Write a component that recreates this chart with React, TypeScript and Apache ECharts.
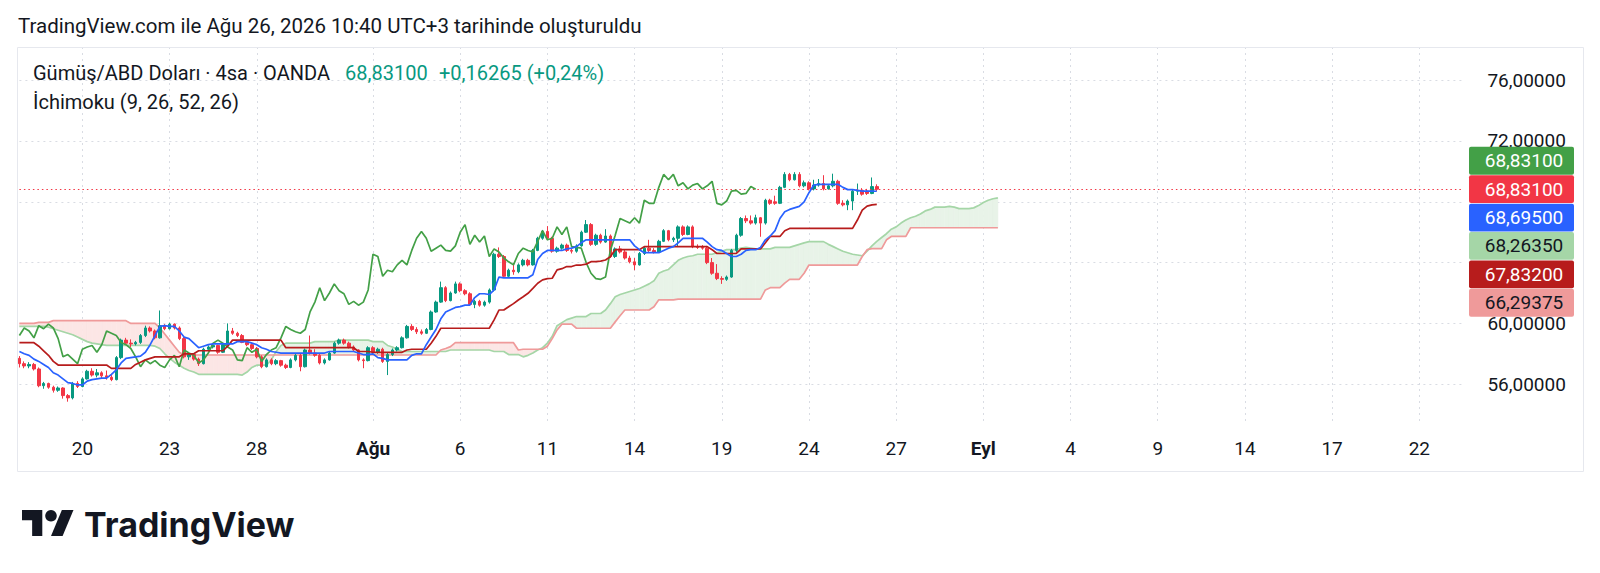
import React, { useEffect, useRef } from "react";
import * as echarts from "echarts";

const N_BARS = 299;
const tickIndex = [13, 31, 49, 73, 91, 109, 127, 145, 163, 181, 199, 217, 235, 253, 271, 289];
const tickLabels = ["20", "23", "28", "Ağu", "6", "11", "14", "19", "24", "27", "Eyl", "4", "9", "14", "17", "22"];
const boldLabels = ["Ağu", "Eyl"];
const priceTicks = [56, 60, 64, 68, 72, 76];
const priceLabelTicks = [56, 60, 72, 76]; // 64 and 68 sit under the value badges
const CHIKOU_SHIFT = 25;

// [open, close, low, high]
const candles = [
  [57.7,57.35,57.1,57.85],[57.35,57.2,57.05,57.5],[57.2,57.3,57.05,57.45],[57.3,57.0,56.9,57.4],[57.0,55.9,55.8,57.1],
  [55.9,56.05,55.7,56.15],[56.05,55.8,55.7,56.1],[55.8,55.6,55.45,55.9],[55.6,55.75,55.5,55.85],[55.75,55.25,55.05,55.8],
  [55.25,55.1,54.85,55.35],[55.1,56.05,55.0,56.15],[56.05,55.85,55.75,56.2],[55.85,56.35,55.8,56.45],[56.35,56.85,56.3,56.95],
  [56.85,56.6,56.5,57.05],[56.6,56.75,56.45,57.0],[56.75,56.55,56.4,56.85],[56.55,56.45,56.3,56.9],[56.45,56.3,56.2,56.6],
  [56.3,57.75,56.25,57.85],[57.75,58.9,57.65,59.0],[58.9,58.7,58.6,59.05],[58.7,58.65,58.45,58.95],[58.65,58.75,58.55,58.85],
  [58.75,59.2,58.65,59.3],[59.2,59.7,59.1,59.85],[59.7,59.5,59.4,59.8],[59.5,59.05,58.95,59.6],[59.05,59.85,59.0,60.85],
  [59.85,59.65,59.55,59.95],[59.65,59.95,59.6,60.05],[59.95,59.7,59.6,60.0],[59.7,59.0,58.9,59.8],[59.0,57.8,57.7,59.1],
  [57.8,57.95,57.6,58.1],[57.95,57.65,57.55,58.05],[57.65,57.35,57.2,57.75],[57.35,58.3,57.3,58.4],[58.3,58.45,58.2,58.55],
  [58.45,58.55,58.35,58.7],[58.55,58.1,58.0,58.6],[58.1,58.6,58.05,58.7],[58.6,59.5,58.55,60.0],[59.5,59.35,59.25,59.7],
  [59.35,59.2,59.1,59.45],[59.2,58.75,58.7,59.3],[58.75,58.6,58.5,58.85],[58.6,58.35,58.25,58.7],[58.35,57.8,57.7,58.45],
  [57.8,57.15,57.05,57.9],[57.15,57.6,57.1,57.7],[57.6,57.35,57.25,57.7],[57.35,57.55,57.25,57.65],[57.55,57.25,57.15,57.6],
  [57.25,57.1,57.0,57.35],[57.1,57.6,57.05,57.7],[57.6,57.9,57.5,58.0],[57.9,57.15,56.85,58.0],[57.15,58.25,57.1,58.35],
  [58.25,58.05,57.95,59.2],[58.05,57.9,57.8,58.3],[57.9,57.4,57.3,58.0],[57.4,57.6,57.3,57.7],[57.6,58.05,57.55,58.15],
  [58.05,58.7,58.0,58.8],[58.7,58.9,58.6,59.0],[58.9,58.7,58.6,59.0],[58.7,58.45,58.35,58.8],[58.45,58.25,58.15,58.55],
  [58.25,57.6,57.5,58.3],[57.6,57.55,57.05,57.7],[57.55,58.4,57.5,58.5],[58.4,58.1,58.0,58.5],[58.1,58.3,58.0,58.4],
  [58.3,57.5,57.4,58.4],[57.5,57.95,56.6,58.05],[57.95,58.25,57.85,58.35],[58.25,58.4,58.15,58.5],[58.4,59.05,58.35,59.15],
  [59.05,59.8,59.0,59.9],[59.8,59.6,59.5,59.95],[59.6,59.45,59.3,59.75],[59.45,59.35,59.25,59.6],[59.35,59.6,59.3,59.7],
  [59.6,60.75,59.55,60.85],[60.75,61.4,60.7,61.5],[61.4,62.35,61.35,62.75],[62.35,61.5,61.4,62.45],[61.5,62.0,61.45,62.1],
  [62.0,62.6,61.95,62.75],[62.6,62.15,62.05,62.7],[62.15,61.95,61.85,62.25],[61.95,61.25,61.15,62.05],[61.25,61.45,61.0,61.55],
  [61.45,61.2,61.1,61.55],[61.2,61.4,61.1,61.5],[61.4,62.2,61.3,62.3],[62.2,64.55,62.1,64.65],[64.55,64.4,64.3,65.0],
  [64.4,63.1,63.0,64.5],[63.1,63.5,63.0,63.6],[63.5,63.4,63.2,63.9],[63.4,63.85,63.3,63.95],[63.85,64.15,63.75,64.25],
  [64.15,63.85,63.75,64.25],[63.85,64.8,63.8,64.9],[64.8,65.6,64.75,65.7],[65.6,66.05,65.5,66.15],[66.05,65.6,65.5,66.4],
  [65.6,64.75,64.65,65.7],[64.75,64.95,64.65,65.05],[64.95,65.15,64.85,65.25],[65.15,64.8,64.7,65.25],[64.8,64.75,64.6,64.95],
  [64.75,65.1,64.65,65.2],[65.1,66.0,65.05,66.1],[66.0,66.5,65.95,66.8],[66.5,65.2,65.1,66.6],[65.2,65.8,65.1,65.9],
  [65.8,65.35,65.25,65.9],[65.35,65.75,65.3,66.2],[65.75,64.4,64.3,65.85],[64.4,64.9,64.3,65.0],[64.9,64.7,64.6,65.1],
  [64.7,64.3,64.2,64.85],[64.3,64.05,63.95,64.45],[64.05,63.85,63.5,64.3],[63.85,64.6,63.8,64.7],[64.6,64.95,64.5,65.05],
  [64.95,64.8,64.7,65.5],[64.8,64.7,64.6,64.95],[64.7,65.4,64.65,65.5],[65.4,66.1,65.35,66.2],[66.1,65.5,65.4,66.15],
  [65.5,65.6,65.35,65.7],[65.6,66.35,65.05,66.45],[66.35,65.85,65.75,66.45],[65.85,66.35,65.8,66.45],[66.35,65.05,64.95,66.45],
  [65.05,65.0,64.9,65.2],[65.0,64.95,64.85,65.15],[64.95,64.0,63.9,65.1],[64.0,63.3,63.2,64.3],[63.3,62.95,62.85,63.9],
  [62.95,62.9,62.6,63.1],[62.9,63.05,62.8,63.15],[63.05,64.8,63.0,64.9],[64.8,65.8,64.7,65.9],[65.8,66.9,65.7,67.0],
  [66.9,66.75,66.6,67.1],[66.75,66.6,66.5,67.1],[66.6,66.95,66.5,67.15],[66.95,66.6,65.7,67.0],[66.6,68.1,66.5,68.2],
  [68.1,67.9,67.8,68.2],[68.0,67.9,67.8,68.4],[67.9,68.95,67.85,69.05],[68.95,69.8,68.9,69.95],[69.8,69.45,69.35,69.9],
  [69.45,69.8,69.4,69.95],[69.8,69.05,68.95,69.95],[69.05,69.25,68.95,69.4],[69.25,68.85,68.75,69.35],[68.85,69.1,68.75,69.45],
  [69.1,69.2,69.0,69.5],[69.2,68.85,68.75,69.75],[68.85,69.05,68.8,69.15],[69.05,69.35,68.95,69.85],[69.35,67.9,67.8,69.45],
  [67.9,67.8,67.7,68.1],[67.8,68.05,67.45,68.15],[68.05,68.7,67.45,68.8],[68.7,68.75,68.45,69.2],[68.75,68.5,68.4,68.9],
  [68.7,68.55,68.45,68.85],[68.55,69.0,68.5,69.6],[69.0,68.831,68.7,69.15],
];

const tenkan = [
  58.15,58.0,57.9,57.65,57.5,57.3,57.1,56.75,56.6,56.35,
  56.1,56.05,55.95,55.95,56.2,56.3,56.35,56.4,56.4,56.65,
  56.95,57.4,57.7,57.75,57.8,57.85,58.1,58.6,59.2,59.8,
  59.85,59.8,59.8,59.5,59.1,59.0,58.7,58.4,58.5,58.6,
  58.65,58.65,58.65,58.65,58.65,58.8,58.8,58.8,58.7,58.6,
  58.4,58.3,58.15,58.1,58.05,58.05,58.05,58.05,58.05,58.05,
  58.05,58.05,58.05,58.05,58.15,58.15,58.15,58.15,58.15,58.15,
  58.05,57.95,57.95,58.0,57.75,57.7,57.6,57.6,57.6,57.6,
  57.6,57.9,58.0,58.0,58.6,59.1,59.6,60.3,60.75,60.9,
  61.05,61.1,61.2,61.2,61.7,61.95,61.95,61.9,62.2,63.05,
  63.0,63.0,63.0,63.0,63.0,63.0,63.2,64.2,64.6,64.8,
  64.8,64.8,64.8,64.9,64.95,65.05,65.3,65.5,65.5,65.5,
  65.5,65.5,65.5,65.5,65.5,65.5,65.5,65.1,64.85,64.65,
  64.65,64.65,64.65,64.8,64.95,65.05,65.3,65.6,65.6,65.6,
  65.6,65.6,65.35,65.05,64.85,64.8,64.6,64.4,64.4,64.55,
  64.8,64.85,64.85,65.0,65.5,65.75,66.1,66.9,67.35,67.5,
  67.6,67.7,68.0,68.6,69.1,69.15,69.15,69.15,69.15,69.15,
  68.95,68.8,68.8,68.75,68.7,68.7,68.7,68.695,
];

const kijun = [
  58.73,58.73,58.73,58.73,58.5,58.2,57.9,57.5,57.26,57.26,
  57.26,57.26,57.26,57.26,57.26,57.26,57.26,57.26,57.26,57.04,
  57.04,57.04,57.04,57.04,57.3,57.45,57.6,57.7,57.8,57.8,
  57.8,57.8,57.8,57.8,58.0,58.0,58.0,58.2,58.2,58.2,
  58.2,58.2,58.2,58.5,58.9,58.9,58.9,58.9,58.9,58.9,
  58.9,58.9,58.9,58.9,58.9,58.4,58.4,58.4,58.4,58.4,
  58.4,58.4,58.4,58.4,58.4,58.4,58.4,58.4,58.4,58.4,
  58.15,58.15,58.15,58.1,58.1,58.1,58.1,58.1,58.1,58.1,
  58.25,58.3,58.3,58.3,58.3,58.7,59.15,59.68,59.68,59.68,
  59.68,59.68,59.68,59.68,59.68,59.68,59.68,59.68,60.23,60.88,
  60.88,61.1,61.3,61.54,61.75,61.98,62.3,62.64,62.86,62.95,
  62.97,63.52,63.6,63.74,63.74,63.84,63.84,63.9,64.06,64.06,
  64.1,64.17,64.39,64.85,64.85,64.85,64.85,64.85,64.85,65.05,
  65.05,65.05,65.05,65.05,65.05,65.05,65.05,65.05,65.05,65.05,
  65.05,65.05,65.05,64.85,64.6,64.6,64.6,64.6,64.6,64.9,
  64.9,64.9,64.9,64.9,65.3,65.72,65.72,65.72,66.1,66.25,
  66.25,66.25,66.25,66.25,66.25,66.25,66.25,66.25,66.25,66.25,
  66.25,66.25,66.25,66.8,67.45,67.72,67.8,67.832,
];

const spanA = [
  59.8,59.8,59.8,59.8,59.8,59.8,59.75,59.65,59.55,59.45,
  59.35,59.25,59.1,58.95,58.8,58.7,58.65,58.6,58.55,58.55,
  58.55,58.55,58.55,58.55,58.55,58.55,58.55,58.55,58.5,58.35,
  58.0,57.7,57.45,57.25,57.05,56.9,56.8,56.65,56.65,56.65,
  56.65,56.65,56.65,56.65,56.65,56.65,56.6,56.8,57.1,57.25,
  57.25,57.25,57.6,58.15,58.55,58.7,58.7,58.7,58.7,58.7,
  58.7,58.8,58.8,58.8,58.8,58.8,58.9,58.9,58.9,58.9,
  58.9,58.9,58.9,58.8,58.8,58.8,58.55,58.45,58.3,58.15,
  58.15,58.15,58.15,58.15,58.15,58.15,58.15,58.15,58.15,58.25,
  58.25,58.25,58.25,58.25,58.25,58.25,58.25,58.25,58.15,58.15,
  58.15,57.95,57.95,57.95,57.8,57.9,58.05,58.25,58.4,58.7,
  59.15,59.85,60.05,60.25,60.35,60.45,60.45,60.45,60.65,60.65,
  60.65,60.88,61.3,61.75,61.9,62.0,62.1,62.2,62.3,62.45,
  62.6,62.8,63.3,63.45,63.55,63.85,64.15,64.3,64.4,64.45,
  64.55,64.55,64.55,64.55,64.65,64.75,64.85,64.85,64.85,64.95,
  65.0,64.95,64.9,64.9,64.9,64.9,65.0,65.0,65.0,65.0,
  65.1,65.2,65.3,65.38,65.38,65.38,65.38,65.2,65.05,64.9,
  64.75,64.65,64.55,64.5,64.45,64.75,65.1,65.4,65.65,65.9,
  66.2,66.35,66.6,66.8,66.95,67.05,67.2,67.4,67.5,67.65,
  67.65,67.65,67.7,67.65,67.55,67.55,67.55,67.6,67.75,67.95,
  68.1,68.2,68.2635,
];

const spanB = [
  60.0,60.0,60.0,60.0,60.07,60.07,60.07,60.18,60.18,60.18,
  60.18,60.18,60.18,60.18,60.18,60.18,60.18,60.18,60.18,60.18,
  60.18,60.18,60.18,60.0,60.0,60.0,60.0,60.0,60.0,59.7,
  59.3,58.9,58.5,58.1,57.92,57.92,57.92,57.92,57.92,57.92,
  57.92,57.92,57.92,57.92,57.92,57.92,57.92,57.92,57.92,57.92,
  57.92,57.92,57.92,57.92,57.92,57.92,57.92,57.92,57.92,57.92,
  57.92,57.92,57.92,57.92,57.92,57.92,57.92,57.92,57.92,57.92,
  57.92,57.92,57.92,57.92,57.92,57.92,57.92,57.92,57.92,57.92,
  57.92,57.92,57.92,57.92,57.92,57.92,57.92,58.25,58.35,58.47,
  58.73,58.73,58.73,58.73,58.73,58.73,58.73,58.73,58.73,58.73,
  58.73,58.73,58.73,58.25,58.3,58.3,58.3,58.3,58.3,58.5,
  59.0,59.57,59.95,59.95,59.95,59.68,59.68,59.68,59.68,59.68,
  59.68,59.68,59.68,60.1,60.5,60.88,60.88,60.88,60.88,60.88,
  60.88,61.1,61.55,61.55,61.55,61.55,61.6,61.6,61.6,61.6,
  61.6,61.6,61.6,61.6,61.6,61.6,61.6,61.6,61.6,61.6,
  61.6,61.6,61.6,61.6,62.2,62.35,62.35,62.35,62.65,62.9,
  62.9,62.9,63.3,63.84,63.84,63.84,63.84,63.84,63.84,63.84,
  63.84,63.84,63.84,63.84,64.4,64.85,64.92,64.92,64.92,65.5,
  65.72,65.72,65.72,65.72,66.29375,66.29375,66.29375,66.29375,66.29375,66.29375,
  66.29375,66.29375,66.29375,66.29375,66.29375,66.29375,66.29375,66.29375,66.29375,66.29375,
  66.29375,66.29375,66.29375,
];

const UP = "#089981";
const DOWN = "#F23645";
const TEXT = "#131722";
const FONT = "Roboto";

const fmt = (v: number) => v.toFixed(5).replace(".", ",");

const categories = Array.from({ length: N_BARS }, (_, i) => String(i));
const closes = candles.map((c) => c[1]);
const chikou = closes.slice(CHIKOU_SHIFT);
const cloudData = spanA.slice(0, spanA.length - 1).map((a, i) => [i, a, spanB[i], spanA[i + 1], spanB[i + 1]]);

export default function App() {
  const ref = useRef<HTMLDivElement>(null);

  useEffect(() => {
    document.body.style.margin = "0";
    const chart = echarts.init(ref.current as HTMLDivElement, null, { renderer: "svg" });
    const gridStyle = { color: "#d9dce3", type: [2, 4], width: 1 };
    const option: any = {
      animation: false,
      backgroundColor: "#ffffff",
      grid: { left: 19.4, top: 47, width: 1443.5, height: 375 },
      xAxis: {
        type: "category",
        data: categories,
        boundaryGap: false,
        axisLine: { show: false },
        axisTick: { show: false },
        axisLabel: {
          interval: (idx: number) => tickIndex.indexOf(idx) >= 0,
          formatter: (_v: string, idx: number) => {
            const k = tickIndex.indexOf(idx);
            if (k < 0) return "";
            const t = tickLabels[k];
            return boldLabels.indexOf(t) >= 0 ? "{b|" + t + "}" : t;
          },
          color: TEXT,
          fontSize: 19,
          fontFamily: FONT,
          margin: 17,
          rich: { b: { fontWeight: "bold", fontSize: 19, fontFamily: FONT, color: TEXT } },
        },
        splitLine: {
          show: true,
          interval: (idx: number) => tickIndex.indexOf(idx) >= 0,
          lineStyle: gridStyle,
        },
      },
      yAxis: {
        type: "value",
        position: "right",
        min: 53.513,
        max: 78.184,
        scale: true,
        axisLine: { show: false },
        axisTick: { show: false, customValues: priceTicks },
        splitLine: { show: true, lineStyle: gridStyle },
        axisLabel: {
          customValues: priceLabelTicks,
          formatter: (v: number) => fmt(v),
          color: TEXT,
          fontSize: 19,
          fontFamily: FONT,
          align: "right",
          margin: 103,
        },
      },
      series: [
        {
          type: "custom",
          name: "cloud",
          z: 1,
          silent: true,
          encode: { x: 0, y: [1, 2] },
          data: cloudData,
          renderItem: (_params: any, api: any) => {
            const i = api.value(0);
            const a0 = api.value(1), b0 = api.value(2), a1 = api.value(3), b1 = api.value(4);
            const pa0 = api.coord([i, a0]);
            const pb0 = api.coord([i, b0]);
            const pa1 = api.coord([i + 1, a1]);
            const pb1 = api.coord([i + 1, b1]);
            const g = "#e8f3e8";
            const r = "#fce6e5";
            const d0 = a0 - b0;
            const d1 = a1 - b1;
            if (d0 * d1 >= 0) {
              const f = d0 + d1 >= 0 ? g : r;
              return {
                type: "polygon",
                shape: { points: [pa0, pa1, pb1, pb0] },
                style: { fill: f, stroke: f, lineWidth: 0.6 },
              };
            }
            const t = d0 / (d0 - d1);
            const px = [pa0[0] + t * (pa1[0] - pa0[0]), pa0[1] + t * (pa1[1] - pa0[1])];
            const f0 = d0 > 0 ? g : r;
            const f1 = d1 > 0 ? g : r;
            return {
              type: "group",
              children: [
                { type: "polygon", shape: { points: [pa0, px, pb0] }, style: { fill: f0, stroke: f0, lineWidth: 0.6 } },
                { type: "polygon", shape: { points: [px, pa1, pb1] }, style: { fill: f1, stroke: f1, lineWidth: 0.6 } },
              ],
            };
          },
        },
        {
          type: "line", name: "Leading Span A", data: spanA, z: 3, symbol: "none", silent: true,
          lineStyle: { color: "#A5D6A7", width: 1.7 },
        },
        {
          type: "line", name: "Leading Span B", data: spanB, z: 3, symbol: "none", silent: true,
          lineStyle: { color: "#EF9A9A", width: 1.7 },
        },
        {
          type: "candlestick",
          name: "XAGUSD",
          data: candles,
          z: 4,
          barWidth: 3,
          silent: true,
          itemStyle: { color: UP, color0: DOWN, borderColor: UP, borderColor0: DOWN, borderWidth: 1 },
          markLine: {
            silent: true,
            symbol: ["none", "none"],
            label: { show: false },
            lineStyle: { color: DOWN, type: [1.5, 3], width: 1 },
            data: [{ yAxis: closes[closes.length - 1] }],
          },
        },
        {
          type: "line", name: "Lagging Span", data: chikou, z: 5, symbol: "none", silent: true,
          lineStyle: { color: "#43A047", width: 1.7 },
        },
        {
          type: "line", name: "Base Line", data: kijun, z: 5, symbol: "none", silent: true,
          lineStyle: { color: "#B71C1C", width: 1.7 },
        },
        {
          type: "line", name: "Conversion Line", data: tenkan, z: 5, symbol: "none", silent: true,
          lineStyle: { color: "#2962FF", width: 1.7 },
        },
      ],
    };
    chart.setOption(option);

    const lastClose = closes[closes.length - 1];
    const yP = chart.convertToPixel({ yAxisIndex: 0 }, lastClose) as number;
    const h = 28.4;
    const badges = [
      { v: chikou[chikou.length - 1], bg: "#43A047", fg: "#ffffff", off: -1 },
      { v: lastClose, bg: "#F23645", fg: "#ffffff", off: 0 },
      { v: tenkan[tenkan.length - 1], bg: "#2962FF", fg: "#ffffff", off: 1 },
      { v: spanA[spanA.length - 1], bg: "#A5D6A7", fg: TEXT, off: 2 },
      { v: kijun[kijun.length - 1], bg: "#B71C1C", fg: "#ffffff", off: 3 },
      { v: spanB[spanB.length - 1], bg: "#EF9A9A", fg: TEXT, off: 4 },
    ];
    const badgeEls: any[] = [];
    badges.forEach((b) => {
      const cy = yP + b.off * h;
      badgeEls.push({
        type: "rect", z: 100,
        shape: { x: 1469, y: cy - h / 2 + 0.3, width: 105, height: h - 0.6, r: 2 },
        style: { fill: b.bg },
      });
      badgeEls.push({
        type: "text", z: 101, x: 1524, y: cy,
        style: { text: fmt(b.v), fill: b.fg, font: `19px ${FONT}`, align: "center", verticalAlign: "middle" },
      });
    });

    chart.setOption({
      graphic: [
        {
          type: "rect", z: 90, silent: true,
          shape: { x: 17.5, y: 47.5, width: 1566, height: 424 },
          style: { fill: "none", stroke: "#e6e8ee", lineWidth: 1 },
        },
        {
          type: "text", z: 100, x: 18, y: 26,
          style: { text: "TradingView.com ile Ağu 26, 2026 10:40 UTC+3 tarihinde oluşturuldu", fill: TEXT, font: `20.5px ${FONT}`, verticalAlign: "middle" },
        },
        {
          type: "text", z: 100, x: 33, y: 73,
          style: { text: "Gümüş/ABD Doları · 4sa · OANDA", fill: TEXT, font: `20px ${FONT}`, verticalAlign: "middle" },
        },
        {
          type: "text", z: 100, x: 345, y: 73,
          style: { text: fmt(lastClose), fill: UP, font: `20px ${FONT}`, verticalAlign: "middle" },
        },
        {
          type: "text", z: 100, x: 439, y: 73,
          style: { text: "+0,16265 (+0,24%)", fill: UP, font: `20px ${FONT}`, verticalAlign: "middle" },
        },
        {
          type: "text", z: 100, x: 33, y: 102,
          style: { text: "İchimoku (9, 26, 52, 26)", fill: TEXT, font: `20px ${FONT}`, verticalAlign: "middle" },
        },
        ...badgeEls,
        {
          type: "group", z: 100, x: 22, y: 504.2, scaleX: 1.45, scaleY: 1.45,
          children: [
            { type: "polygon", shape: { points: [[14, 22], [7, 22], [7, 11], [0, 11], [0, 4], [14, 4]] }, style: { fill: TEXT } },
            { type: "polygon", shape: { points: [[28, 22], [20, 22], [27.5, 4], [35.5, 4]] }, style: { fill: TEXT } },
            { type: "circle", shape: { cx: 20, cy: 8, r: 4 }, style: { fill: TEXT } },
          ],
        },
        {
          type: "text", z: 100, x: 84, y: 524,
          style: { text: "TradingView", fill: TEXT, font: `bold 34px Inter`, verticalAlign: "middle" },
        },
      ],
    });

    return () => chart.dispose();
  }, []);

  return <div ref={ref} style={{ width: 1600, height: 573 }} />;
}
